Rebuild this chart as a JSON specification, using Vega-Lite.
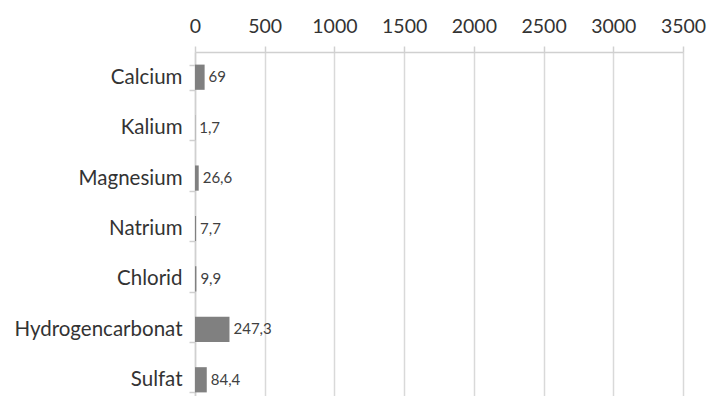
{
  "$schema": "https://vega.github.io/schema/vega-lite/v6.json",
  "width": 488,
  "height": 344,
  "autosize": "none",
  "padding": {"left": 195, "top": 52, "right": 25, "bottom": 0},
  "background": "white",
  "config": {
    "view": {"stroke": null},
    "font": "Lato"
  },
  "data": {
    "values": [
      {"name": "Calcium", "value": 69, "label": "69"},
      {"name": "Kalium", "value": 1.7, "label": "1,7"},
      {"name": "Magnesium", "value": 26.6, "label": "26,6"},
      {"name": "Natrium", "value": 7.7, "label": "7,7"},
      {"name": "Chlorid", "value": 9.9, "label": "9,9"},
      {"name": "Hydrogencarbonat", "value": 247.3, "label": "247,3"},
      {"name": "Sulfat", "value": 84.4, "label": "84,4"}
    ]
  },
  "encoding": {
    "y": {
      "field": "name",
      "type": "nominal",
      "sort": null,
      "title": null,
      "scale": {"range": [0, 353], "paddingInner": 0.5, "paddingOuter": 0.25},
      "axis": {
        "tickBand": "extent",
        "tickSize": 6,
        "tickColor": "#d0d0d0",
        "tickWidth": 1.5,
        "domainColor": "#d0d0d0",
        "domainWidth": 1.5,
        "labelPadding": 7,
        "labelFontSize": 20.5,
        "labelColor": "#333333",
        "labelFont": "Lato",
        "grid": false
      }
    },
    "x": {
      "field": "value",
      "type": "quantitative",
      "title": null,
      "scale": {"domain": [0, 3500], "nice": false},
      "axis": {
        "orient": "top",
        "values": [0, 500, 1000, 1500, 2000, 2500, 3000, 3500],
        "format": "d",
        "grid": true,
        "gridColor": "#d9d9d9",
        "gridWidth": 1.5,
        "tickSize": 6,
        "tickColor": "#d0d0d0",
        "tickWidth": 1.5,
        "domainColor": "#d0d0d0",
        "domainWidth": 1.5,
        "labelPadding": 10,
        "labelFontSize": 19.5,
        "labelColor": "#333333",
        "labelFont": "Lato",
        "labelFlush": false
      }
    }
  },
  "layer": [
    {"mark": {"type": "bar", "color": "#808080"}},
    {
      "mark": {"type": "text", "align": "left", "baseline": "middle", "dx": 4, "fontSize": 15, "color": "#404040", "font": "Lato"},
      "encoding": {"text": {"field": "label"}}
    }
  ]
}
